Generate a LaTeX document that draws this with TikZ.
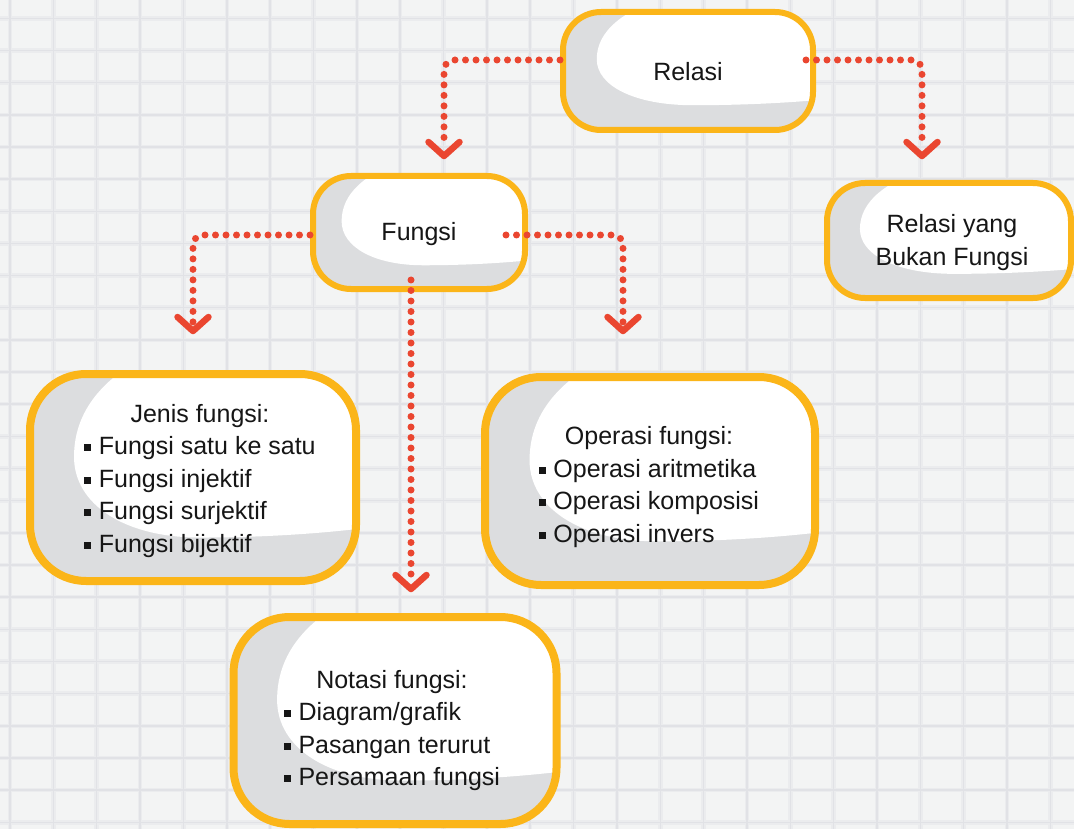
\documentclass[tikz,border=0pt]{standalone}
\usepackage{fontspec}
\setmainfont{Liberation Sans}
\usetikzlibrary{calc}

\definecolor{paper}{HTML}{F3F4F4}
\definecolor{gridhalo}{HTML}{EBECEE}
\definecolor{gridline}{HTML}{E1E2E6}
\definecolor{frame}{HTML}{FBB519}
\definecolor{shade}{HTML}{DCDDDF}
\definecolor{dotred}{HTML}{EA4630}
\definecolor{ink}{HTML}{161616}

% small square bullet
\newcommand\sqbul{\rule[3.4pt]{7pt}{7pt}\hspace{7.5pt}}
% move a block of text without changing its size
\newcommand\nudge[3]{\hspace*{#1}\raisebox{#2}[\height][\depth]{#3}}

\begin{document}
\begin{tikzpicture}[x=1pt,y=-1pt,
  % white highlight inside every card, clipped to the card outline
  blob/.style={path picture={
    \fill[white, sharp corners] let \p1=(path picture bounding box.south west),
                     \p2=(path picture bounding box.north east),
                     \p3=($(\p2)-(\p1)$) in
      ({\x1+0.44*\x3},{\y2+0.15*\y3})
      .. controls ({\x1+0.24*\x3},{\y2+0.02*\y3}) and ({\x1+0.135*\x3},{\y2-0.16*\y3})
      .. ({\x1+0.135*\x3},{\y2-0.40*\y3})
      .. controls ({\x1+0.135*\x3},{\y2-0.63*\y3}) and ({\x1+0.29*\x3},{\y2-0.79*\y3})
      .. ({\x1+0.52*\x3},{\y2-0.79*\y3})
      .. controls ({\x1+0.72*\x3},{\y2-0.79*\y3}) and ({\x1+0.90*\x3},{\y2-0.77*\y3})
      .. ({\x1+1.05*\x3},{\y2-0.74*\y3})
      -- ({\x1+1.05*\x3},{\y2+0.15*\y3}) -- cycle;
  }},
  card/.style={draw=frame, fill=shade, blob, text=ink, inner sep=0pt,
    align=center, font=\fontsize{25}{32.5}\selectfont},
  smallcard/.style={card, line width=6pt, rounded corners=38pt},
  bigcard/.style={card, line width=8pt, rounded corners=56pt},
  link/.style={draw=dotred, line width=7pt, line cap=round,
    dash pattern=on 0pt off 10.5pt, rounded corners=10pt},
  chevron/.style={draw=dotred, line width=6.5pt, line cap=round, line join=round},
]
\useasboundingbox (0,0) rectangle (1074,829);
\fill[paper] (0,0) rectangle (1074,829);

% squared paper
\foreach \i in {0,...,24} {
  \draw[gridhalo, line width=4.5pt] ({10+43.35*\i},0) -- ({10+43.35*\i},829);
}
\foreach \j in {0,...,25} {
  \draw[gridhalo, line width=4.5pt] (0,{18.3+32.16*\j}) -- (1074,{18.3+32.16*\j});
}
\foreach \i in {0,...,24} {
  \draw[gridline, line width=1.5pt] ({10+43.35*\i},0) -- ({10+43.35*\i},829);
}
\foreach \j in {0,...,25} {
  \draw[gridline, line width=1.5pt] (0,{18.3+32.16*\j}) -- (1074,{18.3+32.16*\j});
}

% cards
\node[smallcard, minimum width=250pt, minimum height=118pt] (relasi) at (688,71)
  {\nudge{0pt}{-1pt}{Relasi}};
\node[smallcard, minimum width=212pt, minimum height=113pt] (fungsi) at (419,232.5)
  {\nudge{0pt}{-2pt}{Fungsi}};
\node[smallcard, minimum width=244pt, minimum height=115pt] (bukan) at (949,240.5)
  {\nudge{6pt}{-2pt}{\begin{tabular}{@{}c@{}}Relasi yang\\Bukan Fungsi\end{tabular}}};
\node[bigcard, minimum width=326pt, minimum height=207pt] (jenis) at (193,477.5)
  {\nudge{14pt}{-3pt}{\begin{tabular}{@{}l@{}}
    \multicolumn{1}{@{}c@{}}{Jenis fungsi:}\\
    \sqbul Fungsi satu ke satu\\
    \sqbul Fungsi injektif\\
    \sqbul Fungsi surjektif\\
    \sqbul Fungsi bijektif
  \end{tabular}}};
\node[bigcard, minimum width=330pt, minimum height=208pt] (operasi) at (650,481)
  {\nudge{-2pt}{-6pt}{\begin{tabular}{@{}l@{}}
    \multicolumn{1}{@{}c@{}}{Operasi fungsi:}\\
    \sqbul Operasi aritmetika\\
    \sqbul Operasi komposisi\\
    \sqbul Operasi invers
  \end{tabular}}};
\node[bigcard, minimum width=323pt, minimum height=207pt] (notasi) at (395,720.5)
  {\nudge{-6pt}{-10pt}{\begin{tabular}{@{}l@{}}
    \multicolumn{1}{@{}c@{}}{Notasi fungsi:}\\
    \sqbul Diagram/grafik\\
    \sqbul Pasangan terurut\\
    \sqbul Persamaan fungsi
  \end{tabular}}};

% arrow points above the target cards
\coordinate (tipA) at (444,156);
\coordinate (tipB) at (922,156);
\coordinate (tipC) at (193,331);
\coordinate (tipD) at (623,331);
\coordinate (tipE) at (411,589);

% dotted connectors
\draw[link] ([yshift=11pt]relasi.west) -| ([yshift=9pt]tipA);
\draw[link] ([xshift=-10pt,yshift=11pt]relasi.east) -| ([yshift=9pt]tipB);
\draw[link] ([yshift=-2.5pt]fungsi.west) -| ([yshift=9pt]tipC);
\draw[link] ([xshift=-22pt,yshift=-2.5pt]fungsi.east) -| ([yshift=9pt]tipD);
\draw[link] ([xshift=-8pt,yshift=12pt]fungsi.south) -- ([yshift=9pt]tipE);

% chevron heads
\foreach \t in {tipA,tipB,tipC,tipD,tipE} {
  \draw[chevron] ([shift={(-15.5pt,14pt)}]\t) -- (\t) -- ([shift={(15.5pt,14pt)}]\t);
}
\end{tikzpicture}
\end{document}
